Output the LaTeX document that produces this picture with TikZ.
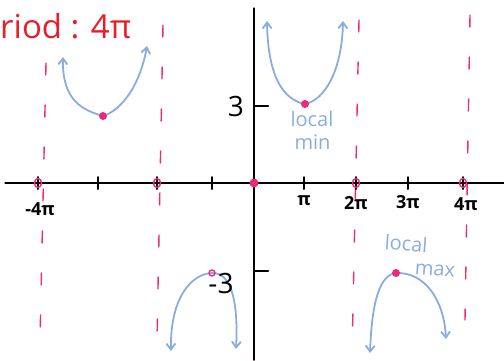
\documentclass[tikz,border=0pt]{standalone}
\usepackage{fontspec}
\setmainfont{Open Sans}
\usepackage{tikz}
\usetikzlibrary{arrows.meta}
\definecolor{penred}{RGB}{232,30,42}
\definecolor{penpink}{RGB}{240,40,120}
\definecolor{penblue}{RGB}{138,172,224}

\begin{document}
\begin{tikzpicture}[x=1pt, y=-1pt, line join=round, line cap=round,
	asym/.style={penpink, line width=1.4pt, dash pattern=on 12pt off 30pt},
	curve/.style={penblue, line width=1.8pt, {Straight Barb[length=6pt,width=9pt]}-{Straight Barb[length=6pt,width=9pt]}},
	dot/.style={fill=penpink},
	hole/.style={draw=penpink, line width=1.4pt},
	lbl/.style={inner sep=1pt, font=\bfseries\fontsize{18}{18}\selectfont},
	note/.style={penblue, inner sep=1pt, font=\fontsize{20}{23}\selectfont}]
	\useasboundingbox (0,0) rectangle (504,360);
	
	% 1. Tiêu đề
	\node[penred, anchor=west, inner sep=0pt, font=\fontsize{33}{33}\selectfont] (title) at (0,26) {riod : 4π};
	
	% 2. Tiệm cận (nét đứt)
	\draw[asym] (46,63) -- (40,340);
	\draw[asym] (163,25) -- (157,340);
	\draw[asym] (254,18) -- (254,360);
	\draw[asym] (359,20) -- (352,355);
	\draw[asym] (470,15) -- (465,320);
	
	% 3. Trục tọa độ
	\draw[line width=1.3pt] (5,183) -- (504,183);
	\draw[line width=1.3pt] (254,8) -- (254,360);
	
	% 4. Vạch chia và số
	\foreach \x in {38,98,157,212,304,356,408,463} {
		\draw[line width=2pt] (\x,177) -- (\x,189);
	}
	\draw[line width=2.2pt] (254,106) -- (268,106);
	\draw[line width=2.2pt] (254,271) -- (268,271);
	\node[lbl] (nfour) at (40,209) {-4π};
	\node[lbl] (pone) at (304,201) {π};
	\node[lbl] (ptwo) at (356,203) {2π};
	\node[lbl] (pthree) at (408,202) {3π};
	\node[lbl] (pfour) at (466,204) {4π};
	\node[font=\fontsize{28}{28}\selectfont] (ythree) at (236,106) {3};
	
	% 5. Cực trị
	\coordinate (minA) at (103,116);
	\coordinate (minB) at (305,104);
	\coordinate (maxA) at (212,273);
	\coordinate (maxB) at (396,273);
	
	% 6. Đồ thị
	\draw[curve] (63,57) .. controls (62,100) and (82,110) .. (minA)
		.. controls (122,110) and (140,85) .. (147,46);
	\draw[curve] (267,21) .. controls (268,80) and (285,100) .. (minB)
		.. controls (325,100) and (342,70) .. (343,21);
	\draw[curve] (171,351) .. controls (170,300) and (190,274) .. (maxA)
		.. controls (234,272) and (238,310) .. (236,349);
	\draw[curve] (370,353) .. controls (372,300) and (380,275) .. (maxB)
		.. controls (425,272) and (444,300) .. (446,339);
	\node[font=\fontsize{28}{28}\selectfont] (ymthree) at (221,283) {-3};
	
	% 7. Điểm
	\fill[dot] (minA) circle (4pt);
	\fill[dot] (minB) circle (4pt);
	\fill[dot] (maxB) circle (4pt);
	\draw[hole] (maxA) circle (3pt);
	\fill[dot] (254,183) circle (4.5pt);
	\foreach \x in {38,157,356,463} {
		\draw[hole] (\x,183) ellipse (3.5pt and 4.5pt);
	}
	
	% 8. Chú thích
	\node[note, align=left] (locmin) at (312,130) {local\\\hspace*{0.2em}min};
	\node[note, align=left, rotate=-4] (locmax) at (420,256) {local\\\hspace*{1.6em}max};
\end{tikzpicture}
\end{document}
